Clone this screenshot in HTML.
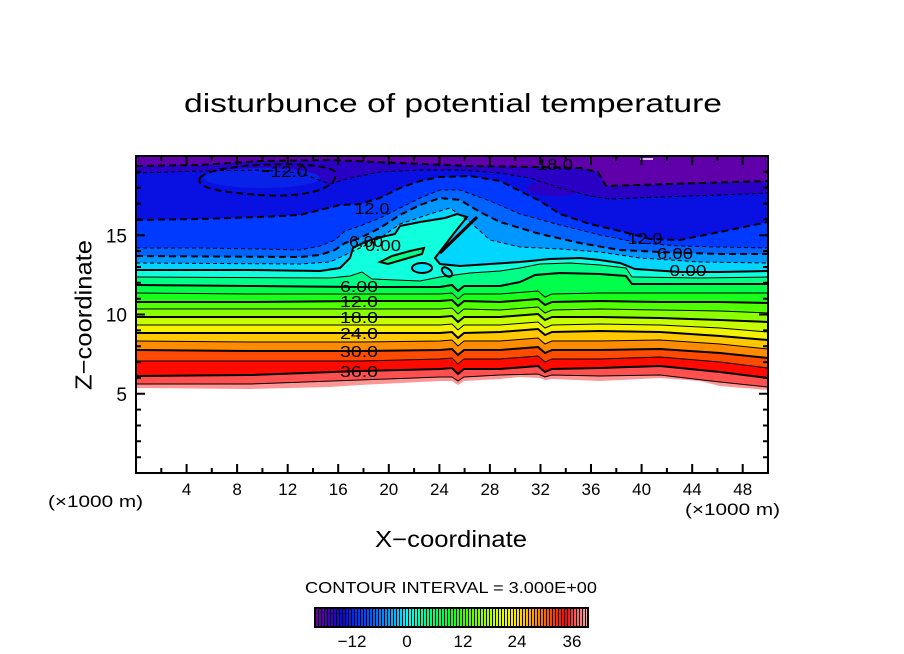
<!DOCTYPE html>
<html><head><meta charset="utf-8"><style>
html,body{margin:0;padding:0;background:#fff;}
svg{display:block;font-family:"Liberation Sans",sans-serif;}
</style></head><body>
<svg width="904" height="654" viewBox="0 0 904 654" xmlns="http://www.w3.org/2000/svg">
<defs>
<clipPath id="pc"><rect x="136" y="156" width="632" height="317"/></clipPath>
<linearGradient id="cb" x1="0" x2="1" y1="0" y2="0">
<stop offset="0" stop-color="#6e00a0"/><stop offset="0.05" stop-color="#3c00be"/><stop offset="0.101" stop-color="#0a0adc"/>
<stop offset="0.151" stop-color="#0032ff"/><stop offset="0.202" stop-color="#005aff"/><stop offset="0.252" stop-color="#008cff"/>
<stop offset="0.303" stop-color="#00c8ff"/><stop offset="0.336" stop-color="#00ffff"/><stop offset="0.387" stop-color="#00ffaa"/>
<stop offset="0.437" stop-color="#00ff64"/><stop offset="0.487" stop-color="#00ff32"/><stop offset="0.538" stop-color="#32ff00"/>
<stop offset="0.588" stop-color="#6eff00"/><stop offset="0.639" stop-color="#aaff00"/><stop offset="0.689" stop-color="#e6ff00"/>
<stop offset="0.739" stop-color="#ffe600"/><stop offset="0.79" stop-color="#ffaa00"/><stop offset="0.84" stop-color="#ff6e00"/>
<stop offset="0.891" stop-color="#ff2800"/><stop offset="0.924" stop-color="#ff0000"/><stop offset="0.958" stop-color="#ff5a5a"/>
<stop offset="1" stop-color="#ffa0a0"/>
</linearGradient>
<pattern id="stripes" x="316" y="0" width="3" height="40" patternUnits="userSpaceOnUse"><rect x="2" y="0" width="1" height="40" fill="#000"/></pattern>
</defs>

<text x="184" y="112" font-size="26" textLength="538" lengthAdjust="spacingAndGlyphs">disturbunce of potential temperature</text>

<g clip-path="url(#pc)">
<rect x="136" y="156" width="632" height="317" fill="#5f00aa"/>
<path fill="#2a00c4" d="M136,166 L200,165 L260,161 L330,160 L400,163 L470,166 L540,167 L580,168 L598,172 L606,186 L640,185 L700,183 L768,181 V473 H136 Z"/>
<path fill="#0811e2" d="M136,173 L200,171 L260,170 L300,173 L330,184 L350,178 L380,172 L420,170 L460,170 L500,173 L530,178 L560,188 L590,196 L610,199 L660,197 L720,195 L768,193 V473 H136 Z"/>
<ellipse cx="555" cy="188" rx="28" ry="8" fill="#2a00c4"/>
<ellipse cx="262" cy="178" rx="58" ry="10" fill="#0822ea"/>
<path fill="#0039ff" d="M136,220 L200,219 L260,217 L300,215 L320,210 L340,205 L360,204 L380,198 L400,188 L420,181 L440,177 L470,176 L500,181 L520,191 L540,201 L560,214 L590,224 L620,231 L650,239 L680,240 L720,232 L768,222 V473 H136 Z"/>
<path fill="#0062ff" d="M136,248 L200,248 L260,249 L300,250 L320,246 L335,240 L345,231 L360,226 L380,218 L400,208 L420,198 L440,190 L460,190 L490,201 L520,214 L560,225 L600,235 L640,243 L680,246 L720,247 L768,248 V473 H136 Z"/>
<path fill="#0096ff" d="M136,256 L300,257 L320,255 L335,250 L345,243 L360,238 L380,228 L400,215 L420,205 L440,198 L460,200 L480,212 L500,222 L540,234 L580,243 L620,250 L660,252 L720,254 L768,254 V473 H136 Z"/>
<path fill="#00d6ff" d="M136,263 L300,264 L330,262 L345,255 L360,248 L380,238 L400,224 L430,214 L450,208 L470,222 L490,240 L520,247 L560,249 L600,252 L640,258 L700,262 L768,263 V473 H136 Z"/>
<path fill="#10ffdc" d="M136,270 L250,270 L320,271 L340,268 L350,258 L353,248 L365,242 L377,238 L395,234 L400,226 L420,222 L445,218 L457,214 L467,217 L455,232 L445,245 L435,258 L440,264 L460,266 L490,264 L520,262 L550,259 L580,258 L600,260 L620,263 L635,269 L680,272 L720,272 L768,271 V473 H136 Z"/>
<path fill="#00ff87" d="M136,277 L330,278 L350,276 L362,272 L372,279 L420,281 L440,277 L470,273 L500,271 L520,268 L540,264 L570,263 L600,265 L626,268 L632,277 L700,278 L768,277 V473 H136 Z"/>
<path fill="#00ff87" stroke="#000" stroke-width="2" d="M380,262 L392,256 L410,251 L424,248 L422,254 L405,259 L388,264 Z"/>
<ellipse cx="422" cy="268" rx="10" ry="5" fill="#00eaff" stroke="#000" stroke-width="2"/>
<ellipse cx="447" cy="272" rx="6" ry="3.5" transform="rotate(40 447 272)" fill="#00f0f0" stroke="#000" stroke-width="2"/>
<path fill="#00ff4b" d="M136,285 L250,286 L360,287 L440,287 L452,285 L458,291 L464,286 L500,286 L520,282 L535,275 L560,273 L600,274 L626,276 L632,284 L700,284 L768,284 V473 H136 Z"/>
<path fill="#19ff19" d="M136,293 L250,294 L360,294 L440,294 L452,293 L458,299 L464,294 L500,294 L538,291 L545,297 L552,294 L600,293 L660,293 L720,293 L768,293 V473 H136 Z"/>
<path fill="#50ff00" d="M136,302 L250,302 L360,301 L440,301 L452,300 L458,306 L464,301 L500,302 L538,299 L545,305 L552,302 L600,301 L660,302 L720,302 L768,303 V473 H136 Z"/>
<path fill="#8cff00" d="M136,309 L250,309 L360,309 L440,309 L452,308 L458,314 L464,309 L500,310 L538,307 L545,313 L552,310 L600,309 L660,310 L720,311 L768,313 V473 H136 Z"/>
<path fill="#c8ff00" d="M136,317 L250,317 L360,317 L440,317 L452,316 L458,322 L464,317 L500,317 L538,314 L545,320 L552,317 L600,317 L660,318 L720,320 L768,322 V473 H136 Z"/>
<path fill="#f3f300" d="M136,325 L250,325 L360,325 L440,325 L452,324 L458,330 L464,325 L500,325 L538,322 L545,328 L552,325 L600,324 L660,325 L720,328 L768,332 V473 H136 Z"/>
<path fill="#ffc800" d="M136,333 L250,333 L360,333 L440,333 L452,332 L458,338 L464,333 L500,332 L538,329 L545,335 L552,332 L600,331 L660,332 L720,336 L768,340 V473 H136 Z"/>
<path fill="#ff8c00" d="M136,341 L250,342 L360,342 L440,341 L452,340 L458,346 L464,341 L500,341 L538,338 L545,344 L552,341 L600,341 L660,340 L720,344 L768,349 V473 H136 Z"/>
<path fill="#ff4b00" d="M136,350 L250,351 L360,351 L440,350 L452,349 L458,355 L464,350 L500,350 L538,347 L545,353 L552,350 L600,350 L660,349 L720,353 L768,358 V473 H136 Z"/>
<path fill="#ff0a00" d="M136,361 L250,361 L360,361 L440,359 L452,358 L458,364 L464,359 L500,359 L538,356 L545,362 L552,359 L600,359 L660,357 L720,362 L768,368 V473 H136 Z"/>
<path fill="#ff5050" d="M136,376 L250,375 L360,371 L440,369 L452,368 L458,374 L464,369 L500,369 L538,366 L545,372 L552,369 L600,368 L660,366 L720,372 L768,378 V473 H136 Z"/>
<path fill="#ff9696" d="M136,384 L250,384 L360,380 L440,377 L452,377 L458,381 L464,377 L500,375 L538,374 L545,377 L552,375 L600,376 L660,375 L720,382 L768,387 V473 H136 Z"/>

<g fill="none" stroke="#000">
<path stroke-width="2" stroke-dasharray="7,4" d="M136,166 L200,165 L260,161 L330,160 L400,163 L470,166 L540,167 L580,168 L598,172 L606,186 L640,185 L700,183 L768,181"/>
<path stroke-width="1" stroke-dasharray="4,3" d="M136,173 L200,171 L260,170 L300,173 L330,184 L350,178 L380,172 L420,170 L460,170 L500,173 L530,178 L560,188 L590,196 L610,199 L660,197 L720,195 L768,193"/>
<path stroke-width="2" stroke-dasharray="7,4" d="M136,220 L200,219 L260,217 L300,215 L320,210 L340,205 L360,204 L380,198 L400,188 L420,181 L440,177 L470,176 L500,181 L520,191 L540,201 L560,214 L590,224 L620,231 L650,239 L680,240 L720,232 L768,222"/>
<path stroke-width="2" stroke-dasharray="7,4" d="M200,178 C210,162 330,160 335,172 C340,190 300,198 260,195 C220,192 195,188 200,178"/>
<path stroke-width="1" stroke-dasharray="4,3" d="M136,248 L200,248 L260,249 L300,250 L320,246 L335,240 L345,231 L360,226 L380,218 L400,208 L420,198 L440,190 L460,190 L490,201 L520,214 L560,225 L600,235 L640,243 L680,246 L720,247 L768,248"/>
<path stroke-width="2" stroke-dasharray="7,4" d="M136,256 L300,257 L320,255 L335,250 L345,243 L360,238 L380,228 L400,215 L420,205 L440,198 L460,200 L480,212 L500,222 L540,234 L580,243 L620,250 L660,252 L720,254 L768,254"/>
<path stroke-width="1" stroke-dasharray="4,3" d="M136,263 L300,264 L330,262 L345,255 L360,248 L380,238 L400,224 L430,214 L450,208 L470,222 L490,240 L520,247 L560,249 L600,252 L640,258 L700,262 L768,263"/>
<path stroke-width="2" d="M136,270 L250,270 L320,271 L340,268 L350,258 L353,248 L365,242 L377,238 L395,234 L400,226 L420,222 L445,218 L457,214 L467,217 L455,232 L445,245 L435,258 L440,264 L460,266 L490,264 L520,262 L550,259 L580,258 L600,260 L620,263 L635,269 L680,272 L720,272 L768,271"/>
<path stroke-width="3" d="M440,253 L477,217"/>
<path stroke-width="1" d="M136,277 L330,278 L350,276 L362,272 L372,279 L420,281 L440,277 L470,273 L500,271 L520,268 L540,264 L570,263 L600,265 L626,268 L632,277 L700,278 L768,277"/>
<path stroke-width="2" d="M136,285 L250,286 L360,287 L440,287 L452,285 L458,291 L464,286 L500,286 L520,282 L535,275 L560,273 L600,274 L626,276 L632,284 L700,284 L768,284"/>
<path stroke-width="1" d="M136,293 L250,294 L360,294 L440,294 L452,293 L458,299 L464,294 L500,294 L538,291 L545,297 L552,294 L600,293 L660,293 L720,293 L768,293"/>
<path stroke-width="2" d="M136,302 L250,302 L360,301 L440,301 L452,300 L458,306 L464,301 L500,302 L538,299 L545,305 L552,302 L600,301 L660,302 L720,302 L768,303"/>
<path stroke-width="1" d="M136,309 L250,309 L360,309 L440,309 L452,308 L458,314 L464,309 L500,310 L538,307 L545,313 L552,310 L600,309 L660,310 L720,311 L768,313"/>
<path stroke-width="2" d="M136,317 L250,317 L360,317 L440,317 L452,316 L458,322 L464,317 L500,317 L538,314 L545,320 L552,317 L600,317 L660,318 L720,320 L768,322"/>
<path stroke-width="1" d="M136,325 L250,325 L360,325 L440,325 L452,324 L458,330 L464,325 L500,325 L538,322 L545,328 L552,325 L600,324 L660,325 L720,328 L768,332"/>
<path stroke-width="2" d="M136,333 L250,333 L360,333 L440,333 L452,332 L458,338 L464,333 L500,332 L538,329 L545,335 L552,332 L600,331 L660,332 L720,336 L768,340"/>
<path stroke-width="1" d="M136,341 L250,342 L360,342 L440,341 L452,340 L458,346 L464,341 L500,341 L538,338 L545,344 L552,341 L600,341 L660,340 L720,344 L768,349"/>
<path stroke-width="2" d="M136,350 L250,351 L360,351 L440,350 L452,349 L458,355 L464,350 L500,350 L538,347 L545,353 L552,350 L600,350 L660,349 L720,353 L768,358"/>
<path stroke-width="1" d="M136,361 L250,361 L360,361 L440,359 L452,358 L458,364 L464,359 L500,359 L538,356 L545,362 L552,359 L600,359 L660,357 L720,362 L768,368"/>
<path stroke-width="2" d="M136,376 L250,375 L360,371 L440,369 L452,368 L458,374 L464,369 L500,369 L538,366 L545,372 L552,369 L600,368 L660,366 L720,372 L768,378"/>
<path stroke-width="1" d="M136,384 L250,384 L360,380 L440,377 L452,377 L458,381 L464,377 L500,375 L538,374 L545,377 L552,375 L600,376 L660,375 L720,382 L768,387"/>
</g>

<path fill="#fff" d="M136,388 L250,389 L330,387 L360,385 L440,381 L452,381 L458,385 L464,381 L500,379 L520,377 L540,378 L545,380 L552,379 L600,381 L640,379 L660,378 L700,381 L720,386 L768,390 L768,473 L136,473 Z"/>
<line x1="640" y1="159" x2="653" y2="159" stroke="#fff" stroke-width="1.5"/>
</g>

<g font-size="16" text-anchor="middle" fill="#000">
<text x="289" y="177" textLength="37" lengthAdjust="spacingAndGlyphs">12.0</text>
<text x="372" y="214" textLength="35" lengthAdjust="spacingAndGlyphs">12.0</text>
<text x="366" y="247" textLength="34" lengthAdjust="spacingAndGlyphs">6.00</text>
<text x="383" y="251" textLength="36" lengthAdjust="spacingAndGlyphs">0.00</text>
<text x="555" y="170" textLength="36" lengthAdjust="spacingAndGlyphs">18.0</text>
<text x="645" y="244" textLength="35" lengthAdjust="spacingAndGlyphs">12.0</text>
<text x="675" y="259" textLength="36" lengthAdjust="spacingAndGlyphs">6.00</text>
<text x="688" y="276" textLength="37" lengthAdjust="spacingAndGlyphs">0.00</text>
<text x="359" y="292" textLength="38" lengthAdjust="spacingAndGlyphs">6.00</text>
<text x="359" y="307" textLength="38" lengthAdjust="spacingAndGlyphs">12.0</text>
<text x="359" y="323" textLength="38" lengthAdjust="spacingAndGlyphs">18.0</text>
<text x="359" y="339" textLength="38" lengthAdjust="spacingAndGlyphs">24.0</text>
<text x="359" y="357" textLength="38" lengthAdjust="spacingAndGlyphs">30.0</text>
<text x="359" y="377" textLength="38" lengthAdjust="spacingAndGlyphs">36.0</text>
</g>
<line x1="262" y1="171" x2="269" y2="171" stroke="#000" stroke-width="2"/>

<rect x="136" y="156" width="632" height="317" fill="none" stroke="#000" stroke-width="2"/>
<path fill="none" stroke="#000" stroke-width="2" d="
M186.6,473v-9 M237.1,473v-9 M287.7,473v-9 M338.2,473v-9 M388.8,473v-9 M439.4,473v-9 M489.9,473v-9 M540.5,473v-9 M591,473v-9 M641.6,473v-9 M692.2,473v-9 M742.7,473v-9
M161.3,473v-5 M211.8,473v-5 M262.4,473v-5 M313,473v-5 M363.5,473v-5 M414.1,473v-5 M464.6,473v-5 M515.2,473v-5 M565.8,473v-5 M616.3,473v-5 M666.9,473v-5 M717.4,473v-5
M186.6,156v9 M237.1,156v9 M287.7,156v9 M338.2,156v9 M388.8,156v9 M439.4,156v9 M489.9,156v9 M540.5,156v9 M591,156v9 M641.6,156v9 M692.2,156v9 M742.7,156v9
M161.3,156v5 M211.8,156v5 M262.4,156v5 M313,156v5 M363.5,156v5 M414.1,156v5 M464.6,156v5 M515.2,156v5 M565.8,156v5 M616.3,156v5 M666.9,156v5 M717.4,156v5
M136,393.8h9 M136,314.5h9 M136,235.3h9
M136,457.2h5 M136,441.3h5 M136,425.5h5 M136,409.6h5 M136,377.9h5 M136,362.1h5 M136,346.2h5 M136,330.4h5 M136,298.7h5 M136,282.8h5 M136,267h5 M136,251.1h5 M136,219.4h5 M136,203.6h5 M136,187.7h5 M136,171.9h5
M768,393.8h-9 M768,314.5h-9 M768,235.3h-9
M768,457.2h-5 M768,441.3h-5 M768,425.5h-5 M768,409.6h-5 M768,377.9h-5 M768,362.1h-5 M768,346.2h-5 M768,330.4h-5 M768,298.7h-5 M768,282.8h-5 M768,267h-5 M768,251.1h-5 M768,219.4h-5 M768,203.6h-5 M768,187.7h-5 M768,171.9h-5
"/>

<g font-size="17" text-anchor="middle" fill="#000">
<text x="186.6" y="495">4</text><text x="237.1" y="495">8</text><text x="287.7" y="495">12</text>
<text x="338.2" y="495">16</text><text x="388.8" y="495">20</text><text x="439.4" y="495">24</text>
<text x="489.9" y="495">28</text><text x="540.5" y="495">32</text><text x="591" y="495">36</text>
<text x="641.6" y="495">40</text><text x="692.2" y="495">44</text><text x="742.7" y="495">48</text>
</g>
<g font-size="19" text-anchor="end" fill="#000">
<text x="127" y="401">5</text><text x="127" y="321.5">10</text><text x="127" y="242.3">15</text>
</g>
<text x="48" y="507" font-size="17" textLength="95" lengthAdjust="spacingAndGlyphs">(×1000 m)</text>
<text x="685" y="515" font-size="17" textLength="95" lengthAdjust="spacingAndGlyphs">(×1000 m)</text>

<text x="375" y="547" font-size="23" textLength="152" lengthAdjust="spacingAndGlyphs">X−coordinate</text>
<text transform="translate(91.5,390) rotate(-90)" x="0" y="0" font-size="23" textLength="150" lengthAdjust="spacingAndGlyphs">Z−coordinate</text>

<text x="305" y="593" font-size="16" textLength="292" lengthAdjust="spacingAndGlyphs">CONTOUR INTERVAL = 3.000E+00</text>
<rect x="316" y="609" width="271" height="17" fill="url(#cb)"/>
<rect x="316" y="609" width="271" height="17" fill="url(#stripes)"/>
<rect x="315" y="608" width="273" height="19" fill="none" stroke="#000" stroke-width="2"/>
<g font-size="17" text-anchor="middle" fill="#000">
<text x="352" y="647">−12</text><text x="407" y="647">0</text><text x="463" y="647">12</text>
<text x="517" y="647">24</text><text x="572" y="647">36</text>
</g>
</svg>
</body></html>
